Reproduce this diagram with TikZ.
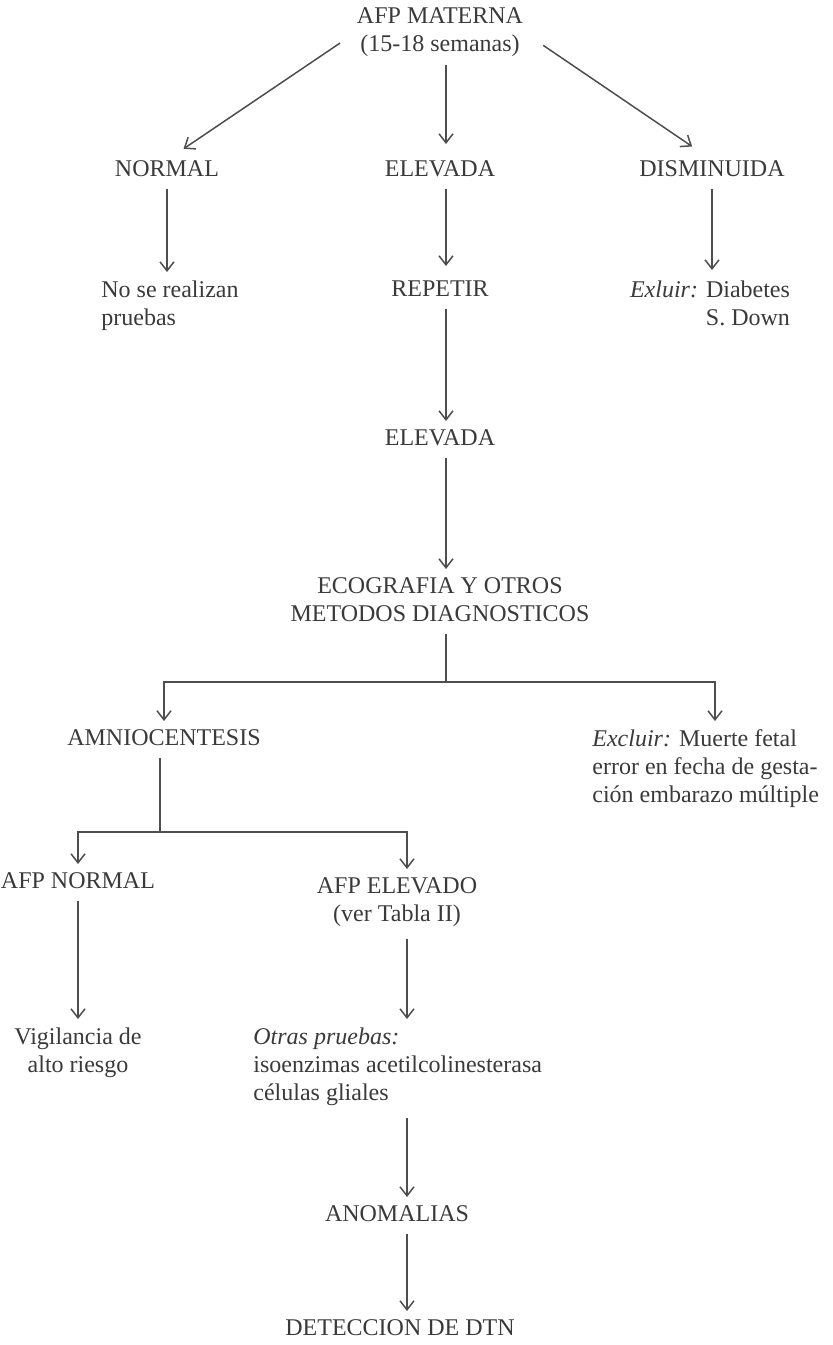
\documentclass[tikz,border=0pt]{standalone}
\usepackage{fontspec}
\setmainfont{Liberation Serif}
\usetikzlibrary{arrows.meta,positioning,calc}
\definecolor{ink}{HTML}{3A3A3A}
\definecolor{rule}{HTML}{4E4E4E}

\begin{document}
\begin{tikzpicture}[x=0.5pt,y=-0.5pt,font=\fontsize{12}{14}\selectfont,
  every node/.style={inner sep=0pt,anchor=north,text=ink},
  box/.style={align=center},
  flow/.style={-{Straight Barb[length=4.5pt,width=7pt]},line width=.75pt,rule,shorten <=6pt,shorten >=4pt},
  bar/.style={line width=.75pt,rule}]
  \useasboundingbox (0,0) rectangle (833,1345);
  \coordinate (cC) at (446,0);
  \coordinate (cR) at (407,0);
  % first level
  \node[box] (mat) at (440,7) {AFP MATERNA\\(15-18 semanas)};
  \node (normal) at (167,160) {NORMAL};
  \node (elev) at (440,160) {ELEVADA};
  \node (dism) at (712,160) {DISMINUIDA};
  \node[align=left] (nopru) at (170,280) {No se realizan\\pruebas};
  \node (rep) at (440,280) {REPETIR};
  \node[align=right] (exl) at (710,280) {\textit{Exluir:} Diabetes\\S. Down};
  \node (elev2) at (440,429) {ELEVADA};
  \node[box] (eco) at (440,577) {ECOGRAFIA Y OTROS\\METODOS DIAGNOSTICOS};
  % second level
  \node (amnio) at (164,729) {AMNIOCENTESIS};
  \node[align=left,anchor=north west] (excl) at (592,729) {\textit{Excluir:} Muerte fetal\\error en fecha de gesta-\\ción embarazo múltiple};
  \node (afpn) at (78,872) {AFP NORMAL};
  \node[box] (afpe) at (397,877) {AFP ELEVADO\\(ver Tabla II)};
  \node[box] (vig) at (78,1027) {Vigilancia de\\alto riesgo};
  \node[align=left,anchor=north west] (otras) at (253,1027) {\textit{Otras pruebas:}\\isoenzimas acetilcolinesterasa\\células gliales};
  \node (anom) at (397,1205) {ANOMALIAS};
  \node (det) at (400,1319) {DETECCION DE DTN};
  % connectors
  \draw[flow,shorten <=10pt,shorten >=10pt] (mat.west) -- (normal.north);
  \draw[flow,shorten <=12pt,shorten >=12pt] (mat.east) -- (dism.north);
  \draw[flow,shorten <=4pt,shorten >=8pt] (mat.south -| cC) -- (elev.north -| cC);
  \draw[flow] (normal.south) -- (normal.south |- nopru.north);
  \draw[flow,shorten >=7pt] (elev.south -| cC) -- (rep.north -| cC);
  \draw[flow,shorten >=5pt] (dism.south) -- (dism.south |- exl.north);
  \draw[flow] (rep.south -| cC) -- (elev2.north -| cC);
  \draw[flow] (elev2.south -| cC) -- (eco.north -| cC);
  \coordinate (f1) at (446,682);
  \coordinate (f1r) at (715,682);
  \draw[bar,shorten <=6pt] (eco.south -| cC) -- (f1);
  \draw[flow,shorten <=0pt] (f1) -| (amnio.north);
  \draw[flow,shorten <=0pt] (f1) -- (f1r) -- (f1r |- excl.north);
  \coordinate (f2) at (160,832);
  \draw[bar,shorten <=6pt] (amnio.south -| f2) -- (f2);
  \draw[flow,shorten <=0pt] (f2) -| (afpn.north);
  \draw[flow,shorten <=0pt] (f2) -| (afpe.north -| cR);
  \draw[flow] (afpn.south) -- (afpn.south |- vig.north);
  \draw[flow] (afpe.south -| cR) -- (otras.north -| cR);
  \draw[flow] (otras.south -| cR) -- (anom.north -| cR);
  \draw[flow] (anom.south -| cR) -- (det.north -| cR);
\end{tikzpicture}
\end{document}
